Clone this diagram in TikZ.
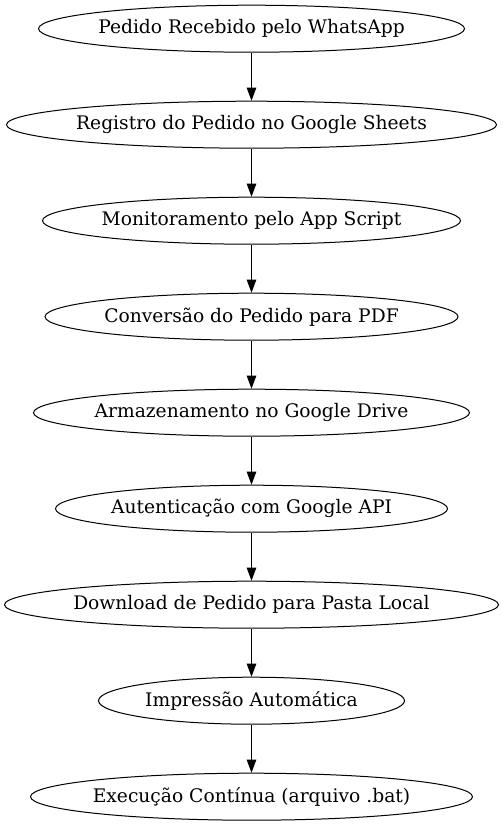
\documentclass[tikz,border=0pt]{standalone}
\usepackage{fontspec}
\setmainfont{DejaVu Serif}
\usetikzlibrary{shapes.geometric,arrows.meta}
\begin{document}
\begin{tikzpicture}[x=1pt,y=1pt,
  flow/.style={draw, ellipse, line width=1pt, inner xsep=-50pt, inner ysep=0pt, minimum height=47pt, font=\fontsize{18.67}{20}\selectfont},
  conn/.style={line width=1pt, -{Triangle[length=13pt,width=9.5pt]}}]
\useasboundingbox (0,0) rectangle (503,-827);
\node[flow, minimum width=426pt] (n1) at (251.5,-28.7) {Pedido Recebido pelo WhatsApp};
\node[flow, minimum width=490pt] (n2) at (251.5,-124.7) {Registro do Pedido no Google Sheets};
\node[flow, minimum width=418pt] (n3) at (251.5,-220.7) {Monitoramento pelo App Script};
\node[flow, minimum width=413pt] (n4) at (251.5,-316.7) {Conversão do Pedido para PDF};
\node[flow, minimum width=436pt] (n5) at (251.5,-412.7) {Armazenamento no Google Drive};
\node[flow, minimum width=392pt] (n6) at (251.5,-508.7) {Autenticação com Google API};
\node[flow, minimum width=494pt] (n7) at (251.5,-604.7) {Download de Pedido para Pasta Local};
\node[flow, minimum width=306pt] (n8) at (251.5,-700.7) {Impressão Automática};
\node[flow, minimum width=442pt] (n9) at (251.5,-796.7) {Execução Contínua (arquivo .bat)};
\foreach \a/\b in {n1/n2,n2/n3,n3/n4,n4/n5,n5/n6,n6/n7,n7/n8,n8/n9}
  \draw[conn] (\a.south) -- (\b.north);
\end{tikzpicture}
\end{document}
